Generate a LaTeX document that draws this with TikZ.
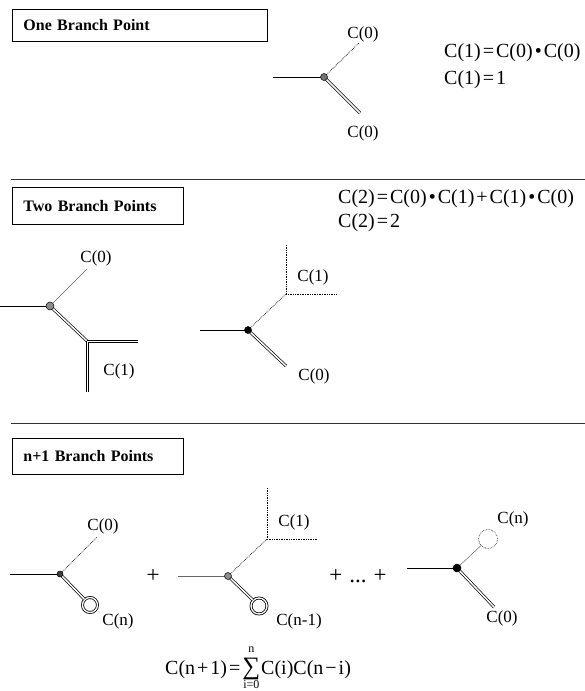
\documentclass[tikz,border=0pt]{standalone}
\usepackage{fontspec}
\setmainfont{Liberation Serif}
\usetikzlibrary{positioning}

\begin{document}
\begin{tikzpicture}[
    x=1pt, y=-1pt,
    % section headings
    title/.style={draw, line width=0.9pt, anchor=north west, inner xsep=11pt,
      inner ysep=0pt, align=left, font=\fontsize{16}{18}\selectfont\bfseries},
    lbl/.style={inner sep=0pt, font=\fontsize{17}{19}\selectfont},
    eqn/.style={inner sep=0pt, anchor=west, font=\fontsize{20}{22}\selectfont},
    plus/.style={inner sep=0pt, font=\fontsize{23}{25}\selectfont},
    % edges of the branch diagrams
    stem/.style={line width=0.8pt},
    bond/.style={double, double distance=1.5pt, line width=0.7pt},
    rail/.style={line width=0.7pt},
    dotline/.style={densely dotted, line width=0.7pt},
    faint/.style={line width=0.5pt, black!60},
    rule/.style={line width=0.9pt, black!80},
    % branch points and subtrees
    bp/.style={circle, draw, line width=0.5pt, inner sep=0pt, minimum size=7pt},
    ring/.style={circle, draw, double, double distance=1.3pt, line width=0.8pt,
      inner sep=0pt, minimum size=15pt},
    ghost/.style={circle, draw, densely dotted, line width=0.6pt, inner sep=0pt,
      minimum size=19pt},
  ]
  \useasboundingbox (0,0) rectangle (585,691);

  % ---- one branch point
  \node[title, text width=233pt, minimum height=32pt] (t1) at (12,9) {One Branch Point};
  \coordinate (b1w) at (273,77);
  \coordinate (b1n) at (359,43);
  \coordinate (b1s) at (360,113);
  \draw[stem] (b1w) -- (324,77);
  \draw[dotline] (324,77) -- (b1n);
  \draw[bond] (324,77) -- (b1s);
  \node[bp, fill=black!55] (b1) at (324,77) {};
  \node[lbl] (l1n) at (363,34) {C(0)};
  \node[lbl] (l1s) at (363,133) {C(0)};
  \node[eqn] (e1) at (444,53) {C(1)\kern2pt=\kern2pt C(0)\kern2pt•\kern2pt C(0)};
  \node[eqn] (e2) at (444,80) {C(1)\kern2pt=\kern2pt 1};

  \coordinate (r1a) at (11,179);
  \coordinate (r1b) at (585,179);
  \draw[rule] (r1a) -- (r1b);

  % ---- two branch points
  \node[title, text width=149pt, minimum height=37pt] (t2) at (12,187) {Two Branch Points};
  \node[eqn] (e3) at (338,199) {C(2)\kern2pt=\kern2pt C(0)\kern2pt•\kern2pt C(1)\kern2pt+\kern2pt C(1)\kern2pt•\kern2pt C(0)};
  \node[eqn] (e4) at (338,223) {C(2)\kern2pt=\kern2pt 2};

  \coordinate (b2w) at (0,306);
  \coordinate (b2n) at (87,269);
  \coordinate (kink) at (87,341);
  \coordinate (kinkr) at (138,341);
  \coordinate (kinkd) at (87,392);
  \draw[stem] (b2w) -- (50,306);
  \draw[faint] (50,306) -- (b2n);
  \draw[bond] (50,306) -- (kink);
  % the C(1) subtree: two rails each way
  \draw[rail] ([yshift=1.1pt]kink) -- ([yshift=1.1pt]kinkr);
  \draw[rail] ([xshift=1.1pt,yshift=-1.1pt]kink) -- ([yshift=-1.1pt]kinkr);
  \draw[rail] ([xshift=-1.1pt]kink) -- ([xshift=-1.1pt]kinkd);
  \draw[rail] ([xshift=1.1pt,yshift=-1.1pt]kink) -- ([xshift=1.1pt]kinkd);
  \node[bp, fill=black!45, minimum size=8pt] (b2) at (50,306) {};
  \node[lbl] (l2n) at (96,258) {C(0)};
  \node[lbl] (l2s) at (119,371) {C(1)};

  \coordinate (b3w) at (200,330);
  \coordinate (k3) at (286,294);
  \coordinate (k3n) at (286,245);
  \coordinate (k3e) at (337,294);
  \coordinate (b3s) at (286,366);
  \draw[stem] (b3w) -- (248,330);
  \draw[dotline] (248,330) -- (k3);
  \draw[dotline] (k3n) -- (k3) -- (k3e);
  \draw[bond] (248,330) -- (b3s);
  \node[bp, fill=black] (b3) at (248,330) {};
  \node[lbl] (l3n) at (313,277) {C(1)};
  \node[lbl] (l3s) at (314,376) {C(0)};

  \coordinate (r2a) at (11,423);
  \coordinate (r2b) at (585,423);
  \draw[rule] (r2a) -- (r2b);

  % ---- n+1 branch points
  \node[title, text width=149pt, minimum height=36pt] (t3) at (12,438) {n+1 Branch Points};

  \coordinate (b4w) at (10,574);
  \coordinate (b4n) at (97,537);
  \node[ring] (o4) at (90,605) {};
  \draw[stem] (b4w) -- (60,574);
  \draw[dotline] (60,574) -- (b4n);
  \draw[bond] (60,574) -- (o4);
  \node[bp, fill=black!75, minimum size=6pt] (b4) at (60,574) {};
  \node[lbl] (l4n) at (103,526) {C(0)};
  \node[lbl] (l4s) at (118,621) {C(n)};
  \node[plus] (p1) at (153,576) {+};

  \coordinate (b5w) at (178,576);
  \coordinate (k5) at (267,539);
  \coordinate (k5n) at (267,488);
  \coordinate (k5e) at (317,539);
  \node[ring, minimum size=16pt] (o5) at (259,606) {};
  \draw[faint, line width=0.7pt] (b5w) -- (228,576);
  \draw[dotline] (228,576) -- (k5);
  \draw[dotline] (k5n) -- (k5) -- (k5e);
  \draw[bond] (228,576) -- (o5);
  \node[bp, fill=black!45] (b5) at (228,576) {};
  \node[lbl] (l5n) at (294,522) {C(1)};
  \node[lbl] (l5s) at (299,621) {C(n-1)};
  \node[plus] (p2) at (358,576) {+\kern7pt...\kern7pt+};

  \coordinate (b6w) at (407,568);
  \coordinate (b6s) at (494,607);
  \node[ghost] (g6) at (488,539) {};
  \draw[stem] (b6w) -- (457,568);
  \draw[faint] (457,568) -- (g6);
  \draw[bond] (457,568) -- (b6s);
  \node[bp, fill=black, minimum size=8pt] (b6) at (457,568) {};
  \node[lbl] (l6n) at (513,519) {C(n)};
  \node[lbl] (l6s) at (502,618) {C(0)};

  \node[eqn, anchor=base west] (e5) at (165,674) {C(n\kern2pt+\kern2pt1)\kern2pt=\kern2pt$\mathop{\hbox{\fontsize{25}{25}\selectfont ∑}}\limits^{\hbox{\fontsize{12}{12}\selectfont\raisebox{3pt}{n}}}_{\hbox{\fontsize{12}{12}\selectfont i=0}}$\kern1pt C(i)C(n\kern2pt−\kern2pt i)};
\end{tikzpicture}
\end{document}
